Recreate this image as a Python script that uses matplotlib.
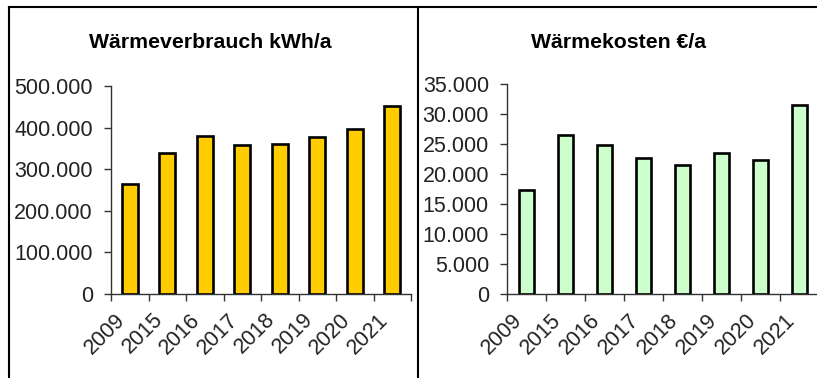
import numpy as np
import matplotlib
matplotlib.use("Agg")
import matplotlib.pyplot as plt
import matplotlib.transforms as mtransforms
from matplotlib.ticker import FuncFormatter
from matplotlib.lines import Line2D

plt.rcParams['font.family'] = ['Liberation Sans', 'DejaVu Sans']

# Data
years = ['2009', '2015', '2016', '2017', '2018', '2019', '2020', '2021']
verbrauch = [264000, 338000, 379000, 357000, 360000, 378000, 397000, 453000]
kosten = [17300, 26500, 24800, 22700, 21600, 23500, 22300, 31500]

titles = ['Wärmeverbrauch kWh/a', 'Wärmekosten €/a']


def de_fmt(v, pos):
    return f"{v:,.0f}".replace(",", ".")


fig = plt.figure(figsize=(8.17, 3.78), dpi=100)

W, H = 817, 378


def px_axes(x0, x1, ytop, ybot):
    return fig.add_axes([x0 / W, 1 - ybot / H, (x1 - x0) / W, (ybot - ytop) / H])


ax1 = px_axes(111, 411, 86, 294)
ax2 = px_axes(507, 819, 84, 294.3)

setups = [
    (ax1, verbrauch, '#FFCC00', 500000, 100000, 0.42, titles[0], 210),
    (ax2, kosten, '#CCFFCC', 35000, 5000, 0.40, titles[1], 619),
]

x = np.arange(len(years))
shift = mtransforms.ScaledTranslation(7 / 100, 0, fig.dpi_scale_trans)
for ax, vals, col, ymax, step, bw, title, tx in setups:
    ax.bar(x, vals, width=bw, color=col, edgecolor='black', linewidth=1.9, zorder=3)
    ax.set_xlim(-0.5, len(years) - 0.5)
    ax.set_ylim(0, ymax)
    ax.set_yticks(np.arange(0, ymax + 1, step))
    ax.yaxis.set_major_formatter(FuncFormatter(de_fmt))
    for s in ['top', 'right']:
        ax.spines[s].set_visible(False)
    for s in ['left', 'bottom']:
        ax.spines[s].set_color('#333333')
        ax.spines[s].set_linewidth(1.0)
    ax.spines['bottom'].set_zorder(4)
    # Excel style: tick marks between categories, labels at centres
    ax.set_xticks(np.arange(-0.5, len(years), 1))
    ax.set_xticklabels([])
    ax.set_xticks(x, minor=True)
    ax.set_xticklabels(years, minor=True, rotation=45, ha='right', fontsize=15.5,
                       color='#222222')
    for lab in ax.get_xticklabels(minor=True):
        lab.set_transform(lab.get_transform() + shift)
    ax.tick_params(axis='x', which='major', direction='out', length=5, width=1, color='#333333')
    ax.tick_params(axis='x', which='minor', length=0, pad=11)
    ax.tick_params(axis='y', direction='out', length=5, width=1, color='#333333',
                   labelsize=15.5, pad=8, labelcolor='#222222')
    ax.patch.set_alpha(0)
    fig.text(tx / W, 1 - 43 / H, title, ha='center', va='center',
             fontsize=15.3, fontweight='bold')

# panel frames
lw = 1.5
fig.add_artist(Line2D([8.5 / W, 8.5 / W], [0, 1 - 7 / H], color='black', lw=lw))
fig.add_artist(Line2D([8.5 / W, 1], [1 - 7 / H, 1 - 7 / H], color='black', lw=lw))
fig.add_artist(Line2D([417.5 / W, 417.5 / W], [0, 1 - 7 / H], color='black', lw=lw))

fig.savefig('out.png', dpi=100)
